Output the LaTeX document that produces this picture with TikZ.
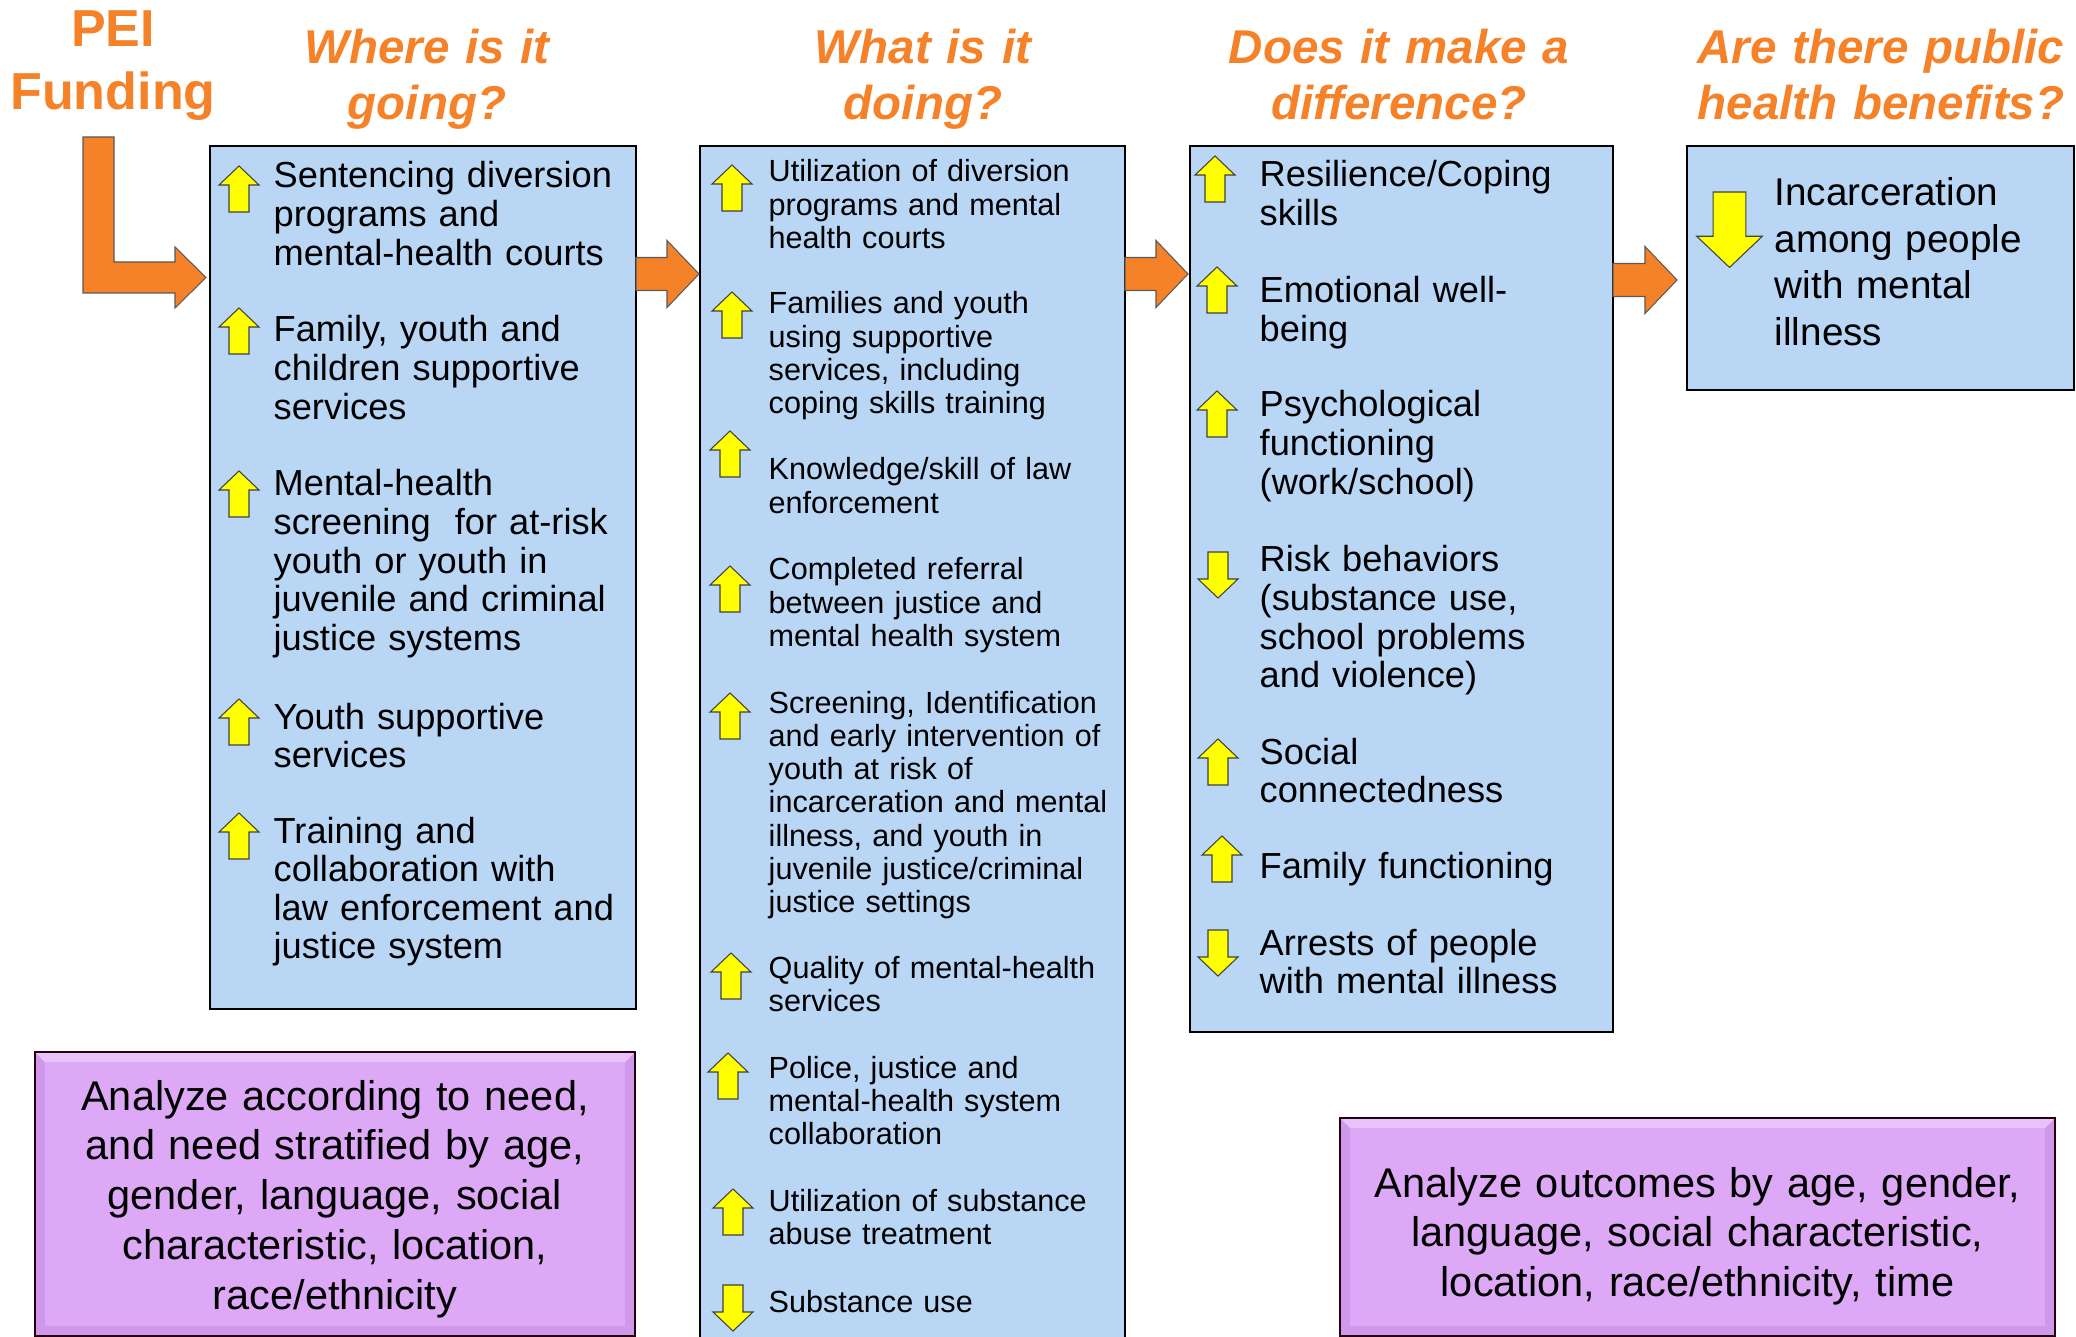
\documentclass[tikz,border=0pt]{standalone}
\usepackage{fontspec}
\setmainfont{Liberation Sans}
\usetikzlibrary{calc}

\definecolor{peiorange}{RGB}{245,130,40}
\definecolor{boxblue}{RGB}{185,214,245}
\definecolor{hiyellow}{RGB}{255,255,0}
\definecolor{facepurple}{RGB}{221,168,245}
\definecolor{litepurple}{RGB}{234,194,250}
\definecolor{darkpurple}{RGB}{208,152,234}

\tikzset{
  colbox/.style={draw=black, line width=0.8pt, fill=boxblue},
  bigarrow/.style={draw=black!65, line width=0.3pt, fill=peiorange},
  yarrow/.style={draw=black!75, line width=0.3pt, fill=hiyellow},
  qhead/.style={text=peiorange, font=\fontsize{13.5}{15.8}\selectfont\bfseries\itshape,
    align=center, text width=5cm, inner sep=0, anchor=base},
  fundtitle/.style={text=peiorange, font=\fontsize{14.8}{17.9}\selectfont\bfseries,
    align=center, text width=3cm, inner sep=0, anchor=base},
  item/.style={font=\fontsize{10.3}{10.95}\selectfont, align=left, text width=4cm,
    inner sep=0, anchor=base west},
  smallitem/.style={font=\fontsize{8.7}{9.47}\selectfont, align=left, text width=4cm,
    inner sep=0, anchor=base west},
  benefit/.style={font=\fontsize{11}{13.2}\selectfont, align=left, text width=3cm,
    inner sep=0, anchor=base west},
  note/.style={font=\fontsize{11.8}{14.15}\selectfont, align=center, text width=6.8cm,
    inner sep=0, anchor=base}
}

\newcommand{\uparr}[2]{\draw[yarrow] (#1,#2) -- ++(20,19) -- ++(-10,0) -- ++(0,27)
  -- ++(-20,0) -- ++(0,-27) -- ++(-10,0) -- cycle;}
\newcommand{\downarr}[3][1]{\begin{scope}[shift={(#2,#3)},scale=#1]
  \draw[yarrow] (-10,0) -- (10,0) -- (10,27) -- (20,27) -- (0,46) -- (-20,27)
  -- (-10,27) -- cycle;
  \end{scope}}
\newcommand{\flowarrow}[2]{\draw[bigarrow] ($(#1)+(0,-16.5)$) -- ($(#2)+(-32,-16.5)$)
  -- ($(#2)+(-32,-33.5)$) -- (#2) -- ($(#2)+(-32,33.5)$) -- ($(#2)+(-32,16.5)$)
  -- ($(#1)+(0,16.5)$) -- cycle;}
\newcommand{\notebox}[2]{
  \fill[darkpurple] (#1) rectangle (#2);
  \fill[litepurple] (#1) -- (#1 -| #2) -- ($(#1 -| #2)+(-10,10)$) -- ($(#1)+(10,10)$) -- cycle;
  \fill[facepurple] ($(#1)+(10,10)$) rectangle ($(#2)+(-10,-10)$);
  \draw[line width=0.8pt, draw=black!80!purple] (#1) rectangle (#2);}

\begin{document}
\begin{tikzpicture}[x=0.01cm, y=-0.01cm]
    \useasboundingbox (0,0) rectangle (2076,1337);

    \coordinate (W1) at (210,146);
    \coordinate (W2) at (636,1009);
    \coordinate (D1) at (700,146);
    \coordinate (D2) at (1125,1380);
    \coordinate (M1) at (1190,146);
    \coordinate (M2) at (1613,1032);
    \coordinate (B1) at (1687,146);
    \coordinate (B2) at (2074,390);
    \coordinate (N1) at (35,1052);
    \coordinate (N2) at (635,1336);
    \coordinate (O1) at (1340,1118);
    \coordinate (O2) at (2055,1336);

    \draw[colbox] (W1) rectangle (W2);
    \draw[colbox] (D1) rectangle (D2);
    \draw[colbox] (M1) rectangle (M2);
    \draw[colbox] (B1) rectangle (B2);
    \notebox{N1}{N2}
    \notebox{O1}{O2}

    \node[fundtitle] (pei) at (113,47) {PEI\\Funding};
    \node[qhead] (where) at (427,64) {Where is it\\going?};
    \node[qhead] (what) at (923,64) {What is it\\doing?};
    \node[qhead] (does) at (1399,64) {Does it make a\\difference?};
    \node[qhead] (public) at (1881,64) {Are there public\\health benefits?};

    \coordinate (fund) at (98.5,137);
    \coordinate (a0) at (206,277.5);
    \coordinate (a1s) at (636,274);
    \coordinate (a1e) at (699,274);
    \coordinate (a2s) at (1125,274);
    \coordinate (a2e) at (1188,274);
    \coordinate (a3s) at (1613,280);
    \coordinate (a3e) at (1677,280);

    \draw[bigarrow] ($(fund)+(-15.5,0)$) -- ($(fund)+(15.5,0)$) -- ($(fund |- a0)+(15.5,-15.5)$)
      -- ($(a0)+(-31,-15.5)$) -- ($(a0)+(-31,-30.5)$) -- (a0) -- ($(a0)+(-31,30.5)$)
      -- ($(a0)+(-31,15.5)$) -- ($(fund |- a0)+(-15.5,15.5)$) -- cycle;
    \flowarrow{a1s}{a1e}
    \flowarrow{a2s}{a2e}
    \flowarrow{a3s}{a3e}

    \uparr{239}{166}
    \uparr{239}{308}
    \uparr{239}{471}
    \uparr{239}{699}
    \uparr{239}{813}
    \node[item] (w1) at (273,188) {Sentencing diversion\\programs and\\mental-health courts};
    \node[item] (w2) at (273,342) {Family, youth and\\children supportive\\services};
    \node[item] (w3) at (273,496) {Mental-health\\screening\ \ for at-risk\\youth or youth in\\juvenile and criminal\\justice systems};
    \node[item] (w4) at (273,729) {Youth supportive\\services};
    \node[item] (w5) at (273,843) {Training and\\collaboration with\\law enforcement and\\justice system};

    \uparr{732}{165}
    \uparr{732}{292}
    \uparr{730}{431}
    \uparr{730}{566}
    \uparr{730}{693}
    \uparr{731}{953}
    \uparr{728}{1053}
    \uparr{733}{1189}
    \downarr{733}{1285}
    \node[smallitem] (d1) at (768,182) {Utilization of diversion\\programs and mental\\health courts};
    \node[smallitem] (d2) at (768,314) {Families and youth\\using supportive\\services, including\\coping skills training};
    \node[smallitem] (d3) at (768,480) {Knowledge/skill of law\\enforcement};
    \node[smallitem] (d4) at (768,580) {Completed referral\\between justice and\\mental health system};
    \node[smallitem] (d5) at (768,713) {Screening, Identification\\and early intervention of\\youth at risk of\\incarceration and mental\\illness, and youth in\\juvenile justice/criminal\\justice settings};
    \node[smallitem] (d6) at (768,978) {Quality of mental-health\\services};
    \node[smallitem] (d7) at (768,1078) {Police, justice and\\mental-health system\\collaboration};
    \node[smallitem] (d8) at (768,1211) {Utilization of substance\\abuse treatment};
    \node[smallitem] (d9) at (768,1312) {Substance use};

    \uparr{1215}{156}
    \uparr{1217}{267}
    \uparr{1217}{391}
    \downarr{1218}{552}
    \uparr{1218}{739}
    \uparr{1222}{836}
    \downarr{1218}{930}
    \node[item] (m1) at (1259,187) {Resilience/Coping\\skills};
    \node[item] (m2) at (1259,303) {Emotional well-\\being};
    \node[item] (m3) at (1259,417) {Psychological\\functioning\\(work/school)};
    \node[item] (m4) at (1259,572) {Risk behaviors\\(substance use,\\school problems\\and violence)};
    \node[item] (m5) at (1259,764) {Social\\connectedness};
    \node[item] (m6) at (1259,878) {Family functioning};
    \node[item] (m7) at (1259,955) {Arrests of people\\with mental illness};

    \downarr[1.64]{1729.5}{192}
    \node[benefit] (b1) at (1774,206) {Incarceration\\among people\\with mental\\illness};

    \node[note] (need) at (335,1110) {Analyze according to need,\\and need stratified by age,\\gender, language, social\\characteristic, location,\\race/ethnicity};
    \node[note] (outcome) at (1697.5,1197) {Analyze outcomes by age, gender,\\language, social characteristic,\\location, race/ethnicity, time};
\end{tikzpicture}
\end{document}
